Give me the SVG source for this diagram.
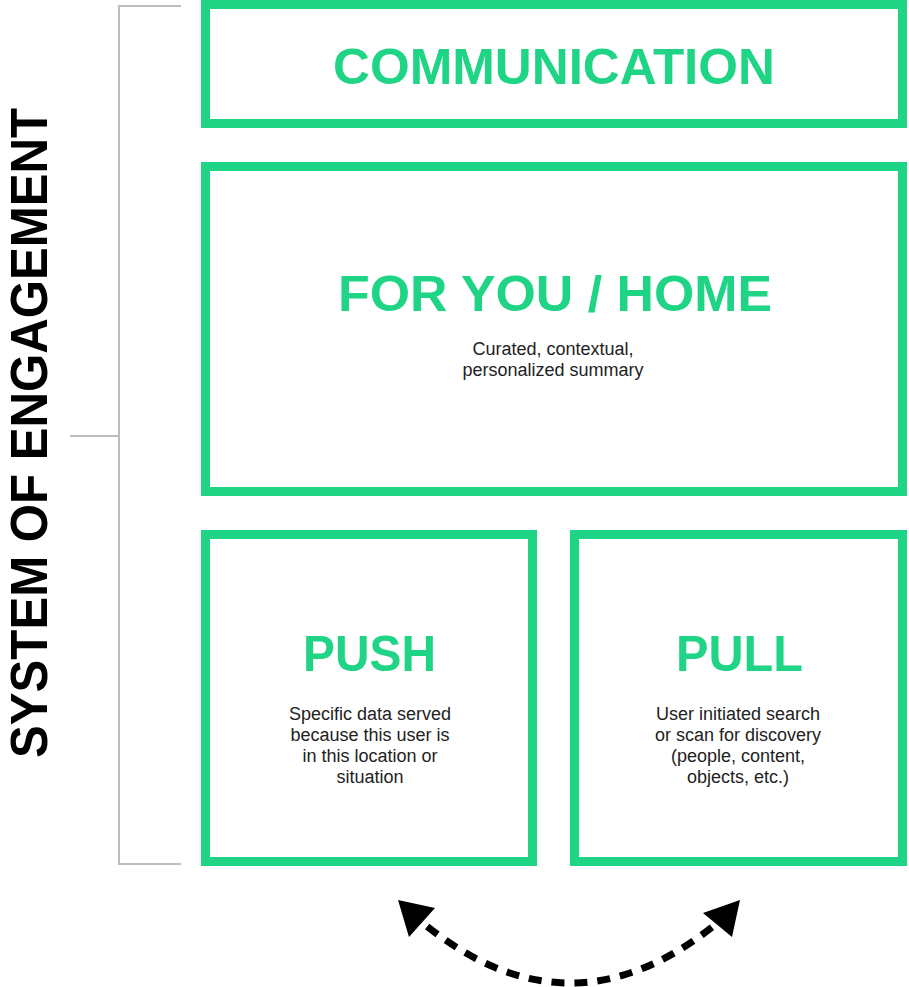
<svg xmlns="http://www.w3.org/2000/svg" width="909" height="987" viewBox="0 0 909 987">
<style>
.box{fill:#fff;stroke:#20d485;stroke-width:9}
.title{font-family:"Liberation Sans",Arial,sans-serif;font-weight:bold;fill:#20d485;text-anchor:middle;font-size:50px}
.body{font-family:"Liberation Sans",Arial,sans-serif;fill:#222;text-anchor:middle;font-size:18px}
.bracket{fill:none;stroke:#bdbdbd;stroke-width:2}
.side{font-family:"Liberation Sans",Arial,sans-serif;font-weight:bold;fill:#000;text-anchor:middle;font-size:51px}
.dash{fill:none;stroke:#000;stroke-width:7;stroke-dasharray:13 10}
.head{fill:#000}
</style>
<rect width="909" height="987" fill="#fff"/>
<g id="bracket">
<path class="bracket" d="M181 6 H119 V864 H181 M119 436 H70"/>
<text class="side" transform="translate(47 433) rotate(-90)" textLength="650" lengthAdjust="spacingAndGlyphs">SYSTEM OF ENGAGEMENT</text>
</g>
<g id="communication">
<rect class="box" x="205.5" y="4.5" width="697" height="119"/>
<text class="title" x="554" y="84" textLength="442" lengthAdjust="spacingAndGlyphs">COMMUNICATION</text>
</g>
<g id="foryou">
<rect class="box" x="205.5" y="166.5" width="697" height="325"/>
<text class="title" x="555" y="311" textLength="434" lengthAdjust="spacingAndGlyphs">FOR YOU / HOME</text>
<text class="body" x="553" y="355">Curated, contextual,</text>
<text class="body" x="553" y="376">personalized summary</text>
</g>
<g id="push">
<rect class="box" x="205.5" y="534.5" width="327" height="327"/>
<text class="title" x="369.5" y="671" textLength="133" lengthAdjust="spacingAndGlyphs">PUSH</text>
<text class="body" x="370" y="720">Specific data served</text>
<text class="body" x="370" y="741">because this user is</text>
<text class="body" x="370" y="762">in this location or</text>
<text class="body" x="370" y="783">situation</text>
</g>
<g id="pull">
<rect class="box" x="574.5" y="534.5" width="328" height="327"/>
<text class="title" x="739.5" y="671" textLength="127" lengthAdjust="spacingAndGlyphs">PULL</text>
<text class="body" x="738" y="720">User initiated search</text>
<text class="body" x="738" y="741">or scan for discovery</text>
<text class="body" x="738" y="762">(people, content,</text>
<text class="body" x="738" y="783">objects, etc.)</text>
</g>
<g id="connectors">
<path class="dash" d="M424 924 Q570 1042 716 924" stroke-dashoffset="-4"/>
<polygon class="head" points="398,900 435,908 409,937"/>
<polygon class="head" points="740,900 703,913 732,937"/>
</g>
</svg>
